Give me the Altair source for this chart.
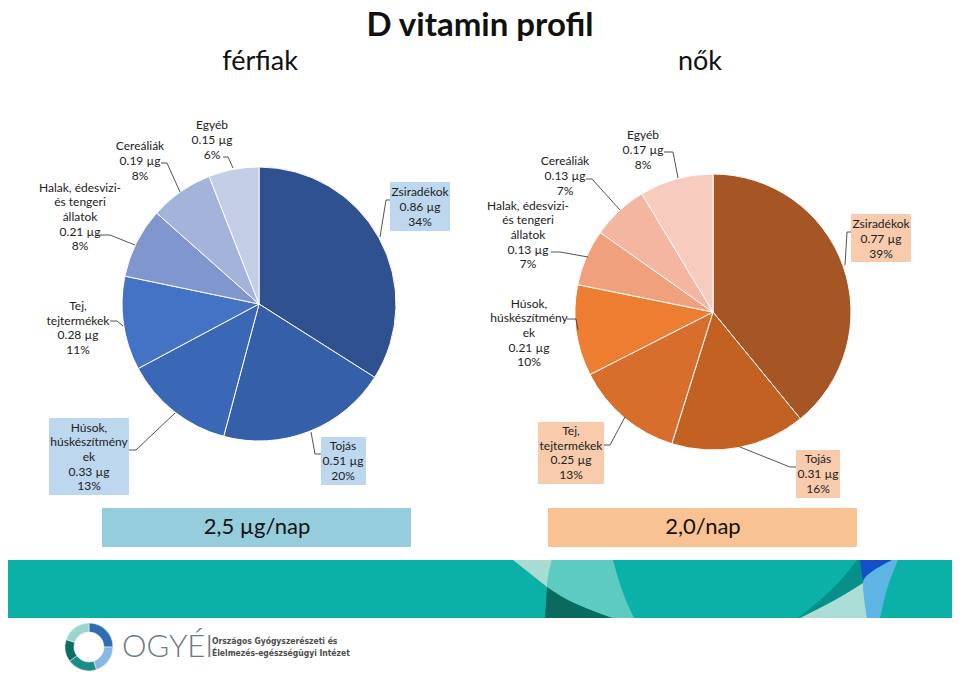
import altair as alt
import pandas as pd

# ---------------- data ----------------
male_cats = ["Zsiradékok", "Tojás", "Húsok, húskészítmények", "Tej, tejtermékek",
             "Halak, édesvízi- és tengeri állatok", "Cereáliák", "Egyéb"]
male_names = ["Zsiradékok", "Tojás", "Húsok,\nhúskészítmény\nek", "Tej,\ntejtermékek",
              "Halak, édesvizi-\nés tengeri\nállatok", "Cereáliák", "Egyéb"]
male_ug = [0.86, 0.51, 0.33, 0.28, 0.21, 0.19, 0.15]
male_pct = [34, 20, 13, 11, 8, 8, 6]

female_cats = ["Zsiradékok", "Tojás", "Tej, tejtermékek", "Húsok, húskészítmények",
               "Halak, édesvízi- és tengeri állatok", "Cereáliák", "Egyéb"]
female_names = ["Zsiradékok", "Tojás", "Tej,\ntejtermékek", "Húsok,\nhúskészítmény\nek",
                "Halak, édesvizi-\nés tengeri\nállatok", "Cereáliák", "Egyéb"]
female_ug = [0.77, 0.31, 0.25, 0.21, 0.13, 0.13, 0.17]
female_pct = [39, 16, 13, 10, 7, 7, 8]

titles = ["D vitamin profil", "férfiak", "nők"]
recommend = ["2,5  µg/nap", "2,0/nap"]
org_name = ["Országos Gyógyszerészeti és", "Élelmezés-egészségügyi Intézet"]

# ---------------- styles / layout ----------------
male_colors = ["#2F5190", "#355FA9", "#3B67B7", "#4472C4", "#7F96CE", "#A3B3DA", "#C3CDE6"]
female_colors = ["#A65524", "#C36123", "#D86E2B", "#ED7D31", "#F0A07C", "#F4B6A0", "#F7CCBF"]
FONT = "Lato"
LH = 14.7

# label centre, optional box (x1,y1,x2,y2), leader polyline  (page pixel coords)
male_layout = [
    dict(c=(420, 207), box=(390, 182, 450, 231), lead=[(390, 200), (386, 200), (380, 237)]),
    dict(c=(343, 461), box=(321, 437, 366, 485), lead=[(321, 454), (315, 454), (311, 432)]),
    dict(c=(89, 457), box=(49, 418, 129, 495), lead=[(129, 450), (136, 450), (175, 413)]),
    dict(c=(78, 328), box=None, lead=[(110, 321), (117, 321), (123, 326)]),
    dict(c=(80, 217), box=None, lead=[(97, 235), (110, 235), (135, 245)]),
    dict(c=(140, 161), box=None, lead=[(161, 163), (167, 163), (180, 192)]),
    dict(c=(212, 140), box=None, lead=[(223, 157), (228, 157), (233, 168)]),
]
female_layout = [
    dict(c=(881, 239), box=(851, 214, 911, 262), lead=[(851, 232), (847, 232), (845, 265)]),
    dict(c=(818, 474), box=(796, 450, 840, 498), lead=[(796, 467), (790, 467), (740, 447)]),
    dict(c=(571, 453), box=(538, 422, 604, 484), lead=[(604, 445), (610, 445), (625, 417)]),
    dict(c=(529, 333), box=None, lead=[(567, 319), (576, 319), (578, 330)]),
    dict(c=(528, 235), box=None, lead=[(551, 252), (560, 252), (588, 257)]),
    dict(c=(565, 176), box=None, lead=[(586, 179), (592, 179), (620, 210)]),
    dict(c=(643, 150), box=None, lead=[(664, 152), (673, 152), (678, 178)]),
]

xs = alt.Scale(domain=[8, 952], nice=False, zero=False)
ys = alt.Scale(domain=[8, 671], nice=False, zero=False, reverse=True)


def X(f):
    return alt.X(f, scale=xs, axis=None)


def Y(f):
    return alt.Y(f, scale=ys, axis=None)


def pie(cats, ug, colors, cx, cy, r):
    df = pd.DataFrame({"cat": cats, "ug": ug, "idx": list(range(len(cats)))})
    return alt.Chart(df).mark_arc(radius=r, stroke="white", strokeWidth=1).encode(
        theta=alt.Theta("ug:Q", stack=True),
        order=alt.Order("idx:Q"),
        color=alt.Color("cat:N", scale=alt.Scale(domain=cats, range=colors), legend=None),
        x=alt.value(cx - 8), y=alt.value(cy - 8),
    )


def labels(names, ug, pct, layout, box_color):
    rows, boxes, lines = [], [], []
    for i, (n, u, p, lo) in enumerate(zip(names, ug, pct, layout)):
        t = f"{n}\n{u:.2f} µg\n{p}%"
        nl = t.count("\n") + 1
        rows.append(dict(px=lo["c"][0], py=lo["c"][1] - (nl - 1) * LH / 2, t=t))
        if lo["box"]:
            b = lo["box"]
            boxes.append(dict(x1=b[0], y1=b[1], x2=b[2], y2=b[3]))
        for k, (lx, ly) in enumerate(lo["lead"]):
            lines.append(dict(id=i, k=k, px=lx, py=ly))
    box_l = alt.Chart(pd.DataFrame(boxes)).mark_rect(color=box_color).encode(
        x=X("x1:Q"), x2="x2:Q", y=Y("y1:Q"), y2="y2:Q")
    line_l = alt.Chart(pd.DataFrame(lines)).mark_line(color="#404040", strokeWidth=0.9).encode(
        x=X("px:Q"), y=Y("py:Q"), detail="id:N", order="k:Q")
    text_l = alt.Chart(pd.DataFrame(rows)).mark_text(
        font=FONT, fontSize=12, lineBreak="\n", lineHeight=LH, align="center",
        baseline="middle", color="#222222").encode(x=X("px:Q"), y=Y("py:Q"), text="t:N")
    return [box_l, line_l, text_l]


def txt(items, **kw):
    df = pd.DataFrame(items)
    kw.setdefault("baseline", "middle")
    return alt.Chart(df).mark_text(font=FONT, **kw).encode(
        x=X("px:Q"), y=Y("py:Q"), text="t:N")


def rect(x1, y1, x2, y2, color):
    df = pd.DataFrame([dict(x1=x1, y1=y1, x2=x2, y2=y2)])
    return alt.Chart(df).mark_rect(color=color).encode(
        x=X("x1:Q"), x2="x2:Q", y=Y("y1:Q"), y2="y2:Q")


def poly(ys_, xl, xr, color):
    df = pd.DataFrame({"py": ys_, "xl": xl, "xr": xr})
    return alt.Chart(df).mark_area(orient="horizontal", color=color, interpolate="monotone").encode(
        y=Y("py:Q"), x=alt.X("xl:Q", scale=xs, axis=None, stack=None), x2="xr:Q")


layers = []
# titles
layers.append(txt([dict(px=480, py=36, t=titles[0])], fontSize=33, fontWeight="bold",
                  baseline="alphabetic", color="#111111"))
layers.append(txt([dict(px=260, py=62, t=titles[1]), dict(px=700, py=62, t=titles[2])],
                  fontSize=27, color="#111111"))
# pies
layers.append(pie(male_cats, male_ug, male_colors, 259, 304, 137))
layers.append(pie(female_cats, female_ug, female_colors, 713, 312, 138))
layers += labels(male_names, male_ug, male_pct, male_layout, "#BDD7EE")
layers += labels(female_names, female_ug, female_pct, female_layout, "#F8CBAD")
# recommended intake boxes
layers.append(rect(102, 508, 411, 547, "#95CDDD"))
layers.append(rect(548, 508, 857, 547, "#F9C292"))
layers.append(txt([dict(px=257, py=527, t=recommend[0]), dict(px=703, py=527, t=recommend[1])],
                  fontSize=22, color="#111111"))
# footer band with decoration
layers.append(rect(0, 560, 960, 618, "#0BB0A6"))
layers.append(poly([560, 587], [513, 547], [552, 547], "#A8DCD3"))
layers.append(poly([560, 587, 603, 618], [552, 547, 574, 612], [613, 621, 627, 634], "#5DCBC1"))
layers.append(poly([587, 603, 618], [547, 546, 545], [547, 574, 612], "#0A6A5E"))
layers.append(poly([560, 583, 600, 618], [857, 838, 820, 798], [861, 863, 835, 800], "#078F8A"))
layers.append(poly([583, 600, 618], [863, 835, 800], [863, 865, 867], "#A9DDD5"))
layers.append(poly([560, 583], [860, 863], [892, 863], "#1150C6"))
layers.append(poly([560, 583, 618], [892, 863, 867], [898, 889, 880], "#5DB5E4"))

# logo
ring_df = pd.DataFrame({"seg": ["a", "b", "c", "d", "e"], "v": [25, 20, 20, 15, 20],
                        "idx": [0, 1, 2, 3, 4]})
ring_cols = ["#2F6DB5", "#86B8E3", "#1B8D86", "#0E6D66", "#9AD6CC"]
layers.append(alt.Chart(ring_df).mark_arc(radius=24, radius2=15, stroke="white", strokeWidth=0.5).encode(
    theta=alt.Theta("v:Q", stack=True), order=alt.Order("idx:Q"),
    color=alt.Color("seg:N", scale=alt.Scale(domain=list(ring_df["seg"]), range=ring_cols), legend=None),
    x=alt.value(89 - 8), y=alt.value(647 - 8)))
layers.append(txt([dict(px=122, py=648, t="OGYÉI")], fontSize=31, fontWeight=300, align="left",
                  color="#6E7B85"))
layers.append(alt.Chart(pd.DataFrame([dict(px=212, py=641, t=org_name[0]),
                                      dict(px=212, py=653, t=org_name[1])])).mark_text(
    font="'DejaVu Sans Condensed', Roboto, sans-serif", fontSize=8.5, fontWeight="bold",
    align="left", baseline="middle", color="#4D4D4D").encode(x=X("px:Q"), y=Y("py:Q"), text="t:N"))

chart = alt.layer(*layers).resolve_scale(theta="independent", color="independent").properties(
    width=944, height=663, autosize=alt.AutoSizeParams(type="none"), padding=0
).configure_view(strokeWidth=0)

chart.save("out.html", embed_options={"renderer": "svg", "actions": False})
